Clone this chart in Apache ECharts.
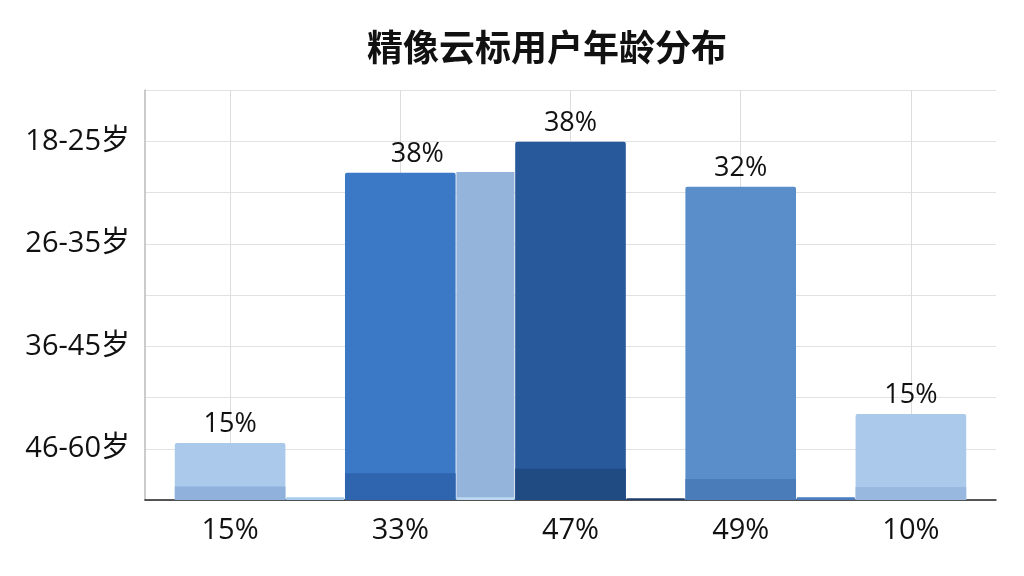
<!DOCTYPE html>
<html>
<head>
<meta charset="utf-8">
<script src="https://cdn.jsdelivr.net/npm/echarts@6/dist/echarts.min.js"></script>
<style>
  html, body { margin: 0; padding: 0; background: #fff; }
  #main { width: 1024px; height: 576px; }
</style>
</head>
<body>
<div id="main"></div>
<script>
// 数据
var xLabels = ['15%', '33%', '47%', '49%', '10%'];
var ageLabels = ['46-60岁', '36-45岁', '26-35岁', '18-25岁']; // 由下到上
var barLabels = ['15%', '38%', '38%', '32%', '15%'];
var barValues = [13.9, 79.8, 87.4, 76.4, 21.0];
var baseValues = [3.3, 6.5, 7.6, 5.1, 3.2];     // 柱子底部深色部分
var gapPos = [0.5, 1.5, 2.5, 3.5];
var gapValues = [0.7, 80.0, 0.4, 0.7];          // 柱子之间的矮柱
var gapBaseValues = [0, 0.7, 0, 0];

// 配色
var barColors = ['#abc9eb', '#3b78c6', '#27599b', '#5a8ecb', '#abc9eb'];
var baseColors = ['#90b1dc', '#2e65ae', '#1f4a82', '#4b7cba', '#98b8e0'];
var gapColors = ['#a9cdee', '#95b4db', '#1e3d6e', '#4a7cc0'];
var gapBaseColors = ['#a9cdee', '#bcd8f0', '#1e3d6e', '#4a7cc0'];
var labelOffsets = [[0, 0], [17, 0], [0, 0], [0, 0], [0, 0]];

var myChart = echarts.init(document.getElementById('main'));

var option = {
  backgroundColor: '#fff',
  title: {
    text: '精像云标用户年龄分布',
    left: 362,
    top: 24,
    textStyle: {
      fontFamily: 'Noto Sans CJK SC',
      fontSize: 36,
      fontWeight: 'bold',
      color: '#111'
    }
  },
  grid: { left: 145, right: 28, top: 90, bottom: 76 },
  xAxis: [{
    type: 'category',
    data: xLabels,
    axisLine: { lineStyle: { color: '#222', width: 1.5 } },
    axisTick: { show: false },
    axisLabel: {
      margin: 16,
      fontSize: 29,
      fontFamily: 'Open Sans',
      color: '#111'
    },
    splitLine: { show: true, alignWithLabel: true, lineStyle: { color: '#dcdcdc' } }
  }, {
    type: 'value',
    min: -0.5,
    max: 4.5,
    show: false
  }],
  yAxis: [{
    type: 'value',
    min: 0,
    max: 100,
    interval: 12.5,
    axisLine: { show: true, onZero: false, lineStyle: { color: '#bbb', width: 1.5 } },
    axisTick: { show: false },
    axisLabel: { show: false },
    splitLine: { lineStyle: { color: '#e2e2e2' } }
  }, {
    type: 'category',
    position: 'left',
    data: ageLabels,
    axisLine: { show: false },
    axisTick: { show: false },
    splitLine: { show: false },
    axisLabel: {
      margin: 15,
      fontSize: 29,
      fontFamily: 'Open Sans, Noto Sans CJK SC',
      color: '#111'
    }
  }],
  series: [{
    name: 'main',
    type: 'bar',
    barWidth: '65%',
    barGap: '-100%',
    data: barValues.map(function (v, i) {
      return {
        value: v,
        itemStyle: { color: barColors[i], borderRadius: [2, 2, 0, 0] },
        label: { offset: labelOffsets[i] }
      };
    }),
    label: {
      show: true,
      position: 'top',
      distance: 5,
      fontSize: 27,
      fontFamily: 'Open Sans',
      color: '#111',
      formatter: function (p) { return barLabels[p.dataIndex]; }
    },
    z: 2
  }, {
    name: 'base',
    type: 'bar',
    barWidth: '65%',
    barGap: '-100%',
    data: baseValues.map(function (v, i) {
      return { value: v, itemStyle: { color: baseColors[i] } };
    }),
    z: 3
  }, {
    name: 'gap',
    type: 'bar',
    xAxisIndex: 1,
    barWidth: 58,
    barGap: '-100%',
    data: gapValues.map(function (v, i) {
      return { value: [gapPos[i], v], itemStyle: { color: gapColors[i] } };
    }),
    z: 2
  }, {
    name: 'gapBase',
    type: 'bar',
    xAxisIndex: 1,
    barWidth: 58,
    barGap: '-100%',
    data: gapBaseValues.map(function (v, i) {
      return { value: [gapPos[i], v], itemStyle: { color: gapBaseColors[i] } };
    }),
    z: 3
  }]
};

myChart.setOption(option);
</script>
</body>
</html>
